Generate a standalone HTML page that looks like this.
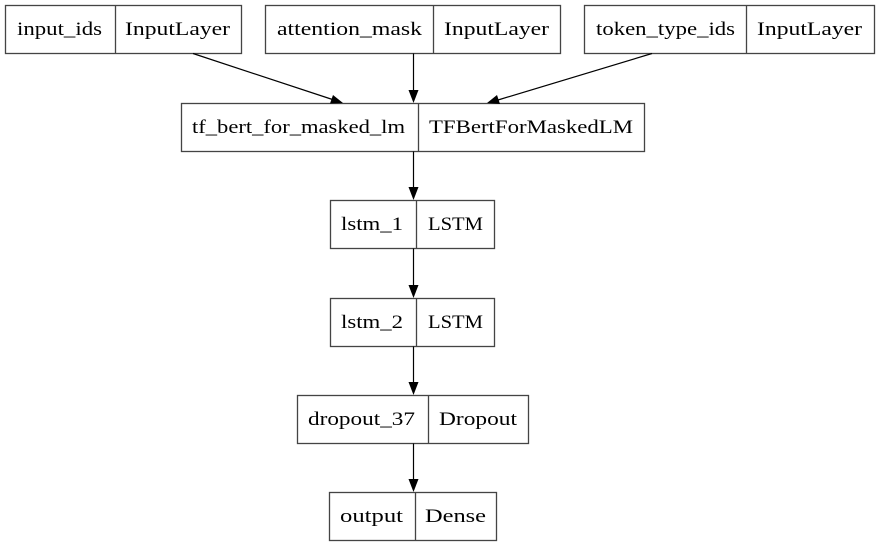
<!DOCTYPE html>
<html><head><style>
html,body{margin:0;padding:0;background:#fff;}
svg text{font-family:"Liberation Serif",serif;font-size:19px;fill:#000;}
</style></head><body>
<svg width="879" height="547" viewBox="0 0 879 547" xmlns="http://www.w3.org/2000/svg">
<g fill="none" stroke="#444" stroke-width="1.3">
<rect x="5.5" y="5.5" width="236" height="48"/><line x1="115.5" y1="5.5" x2="115.5" y2="53.5"/>
<rect x="265.5" y="5.5" width="295" height="48"/><line x1="433.5" y1="5.5" x2="433.5" y2="53.5"/>
<rect x="584.5" y="5.5" width="290" height="48"/><line x1="746.5" y1="5.5" x2="746.5" y2="53.5"/>
<rect x="181.5" y="103.5" width="463" height="48"/><line x1="418.5" y1="103.5" x2="418.5" y2="151.5"/>
<rect x="330.5" y="200.5" width="164" height="48"/><line x1="416.5" y1="200.5" x2="416.5" y2="248.5"/>
<rect x="330.5" y="298.5" width="164" height="48"/><line x1="416.5" y1="298.5" x2="416.5" y2="346.5"/>
<rect x="297.5" y="395.5" width="231" height="48"/><line x1="428.5" y1="395.5" x2="428.5" y2="443.5"/>
<rect x="329.5" y="492.5" width="167" height="48"/><line x1="415.5" y1="492.5" x2="415.5" y2="540.5"/>
</g>
<g stroke="#000" stroke-width="1.2">
<line x1="193" y1="53.5" x2="334" y2="100"/>
<line x1="413.5" y1="53.5" x2="413.5" y2="93"/>
<line x1="652" y1="53.5" x2="498" y2="100"/>
<line x1="413.5" y1="151.5" x2="413.5" y2="190"/>
<line x1="413.5" y1="248.5" x2="413.5" y2="288"/>
<line x1="413.5" y1="346.5" x2="413.5" y2="385"/>
<line x1="413.5" y1="443.5" x2="413.5" y2="482"/>
</g>
<g fill="#000">
<polygon points="343,103 330,103.5 333,95"/>
<polygon points="413.5,103 408.5,90 418.5,90"/>
<polygon points="487,103 497,95 500,104"/>
<polygon points="413.5,200 408.5,187 418.5,187"/>
<polygon points="413.5,298 408.5,285 418.5,285"/>
<polygon points="413.5,395 408.5,382 418.5,382"/>
<polygon points="413.5,492 408.5,479 418.5,479"/>
</g>
<g lengthAdjust="spacingAndGlyphs">
<text x="17" y="35" textLength="85" lengthAdjust="spacingAndGlyphs">input_ids</text>
<text x="125" y="35" textLength="105" lengthAdjust="spacingAndGlyphs">InputLayer</text>
<text x="277" y="35" textLength="145" lengthAdjust="spacingAndGlyphs">attention_mask</text>
<text x="444" y="35" textLength="105" lengthAdjust="spacingAndGlyphs">InputLayer</text>
<text x="596" y="35" textLength="139" lengthAdjust="spacingAndGlyphs">token_type_ids</text>
<text x="757" y="35" textLength="105" lengthAdjust="spacingAndGlyphs">InputLayer</text>
<text x="192" y="133" textLength="213" lengthAdjust="spacingAndGlyphs">tf_bert_for_masked_lm</text>
<text x="429" y="133" textLength="204" lengthAdjust="spacingAndGlyphs">TFBertForMaskedLM</text>
<text x="341" y="230" textLength="62" lengthAdjust="spacingAndGlyphs">lstm_1</text>
<text x="428" y="230" textLength="55" lengthAdjust="spacingAndGlyphs">LSTM</text>
<text x="341" y="328" textLength="62" lengthAdjust="spacingAndGlyphs">lstm_2</text>
<text x="428" y="328" textLength="55" lengthAdjust="spacingAndGlyphs">LSTM</text>
<text x="308" y="425" textLength="107" lengthAdjust="spacingAndGlyphs">dropout_37</text>
<text x="439" y="425" textLength="78" lengthAdjust="spacingAndGlyphs">Dropout</text>
<text x="340" y="522" textLength="63" lengthAdjust="spacingAndGlyphs">output</text>
<text x="425" y="522" textLength="61" lengthAdjust="spacingAndGlyphs">Dense</text>
</g>
</svg>
</body></html>
